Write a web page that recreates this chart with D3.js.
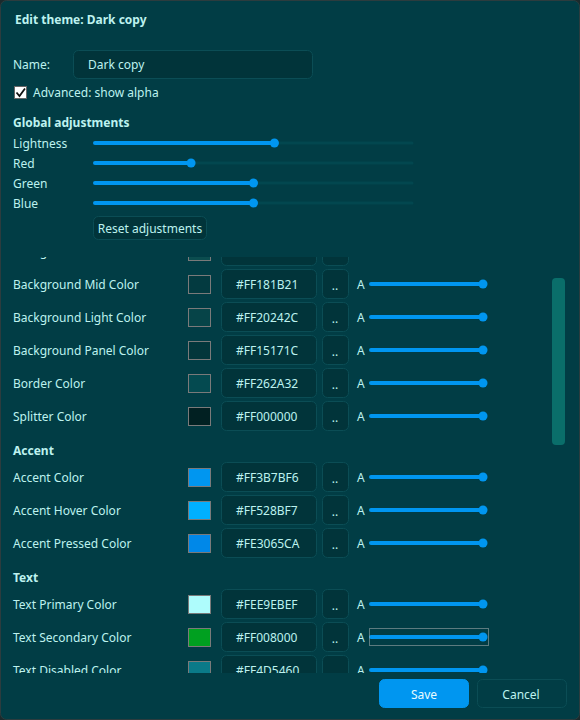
<!DOCTYPE html>
<html><head><meta charset="utf-8">
<script src="https://cdn.jsdelivr.net/npm/d3@7"></script>
<style>body{margin:0;background:#1b2a2c}svg{display:block;font-family:"Noto Sans",sans-serif}</style>
</head><body><div id="ui"></div>
<script>
const sliderNames = ["Lightness", "Red", "Green", "Blue"];
const sliderValues = [0.566, 0.303, 0.5, 0.5];

const sections = [
  {title: null, rows: ["Background Dark Color", "Background Mid Color", "Background Light Color", "Background Panel Color", "Border Color", "Splitter Color"],
   hex: ["#FF0F1216", "#FF181B21", "#FF20242C", "#FF15171C", "#FF262A32", "#FF000000"],
   swatch: ["#0b4d4f", "#033a40", "#064448", "#02363b", "#044a50", "#012022"]},
  {title: "Accent", rows: ["Accent Color", "Accent Hover Color", "Accent Pressed Color"],
   hex: ["#FF3B7BF6", "#FF528BF7", "#FE3065CA"],
   swatch: ["#0096f0", "#00b0ff", "#0088e8"]},
  {title: "Text", rows: ["Text Primary Color", "Text Secondary Color", "Text Disabled Color"],
   hex: ["#FEE9EBEF", "#FF008000", "#FF4D5460"],
   swatch: ["#aefcfc", "#00a020", "#0a7a88"]}
];

const W = 580, H = 720;
const bg = "#013d45", fg = "#bdf2ef", accent = "#0096f0", boxFill = "#01343a", boxStroke = "#0b4d55";

const svg = d3.select("#ui").append("svg").attr("width", W).attr("height", H);
svg.append("rect").attr("x", 0.5).attr("y", 0.5).attr("width", W - 1).attr("height", H - 1)
  .attr("rx", 6).attr("fill", bg).attr("stroke", "#2c3c3e");

function txt(g, x, y, s, opts = {}) {
  return g.append("text").attr("x", x).attr("y", y + 1).attr("dy", "0.35em")
    .attr("fill", opts.fill || fg).attr("font-size", opts.size || 12)
    .attr("font-weight", opts.bold ? "bold" : null)
    .attr("text-anchor", opts.anchor || "start").text(s);
}
function box(g, x, y, w, h, fill, stroke) {
  return g.append("rect").attr("x", x + 0.5).attr("y", y + 0.5).attr("width", w).attr("height", h)
    .attr("rx", 5).attr("fill", fill || boxFill).attr("stroke", stroke || boxStroke);
}
function slider(g, x0, x1, y, v, bgTrack) {
  const s = d3.scaleLinear().domain([0, 1]).range([x0, x1]);
  if (bgTrack) g.append("line").attr("x1", s(v)).attr("x2", x1).attr("y1", y).attr("y2", y)
    .attr("stroke", "#02474f").attr("stroke-width", 3).attr("stroke-linecap", "round");
  g.append("line").attr("x1", x0).attr("x2", s(v) - 4).attr("y1", y).attr("y2", y)
    .attr("stroke", accent).attr("stroke-width", 4).attr("stroke-linecap", "round");
  g.append("circle").attr("cx", s(v)).attr("cy", y).attr("r", 4.5).attr("fill", accent);
}

txt(svg, 15, 19, "Edit theme: Dark copy", {bold: true});
txt(svg, 13, 64, "Name:");
box(svg, 73, 50, 239, 28);
txt(svg, 88, 64, "Dark copy");
svg.append("rect").attr("x", 14.5).attr("y", 86.5).attr("width", 12).attr("height", 12)
  .attr("fill", "#ffffff").attr("stroke", "#666");
svg.append("path").attr("d", "M16.5,92.5 L19.5,96 L25,88.5").attr("fill", "none")
  .attr("stroke", "#111").attr("stroke-width", 1.8);
txt(svg, 33, 92, "Advanced: show alpha");
txt(svg, 13, 122, "Global adjustments", {bold: true});

sliderNames.forEach((n, i) => {
  const y = 143 + i * 20;
  txt(svg, 13, y, n);
  slider(svg, 95, 412, y, sliderValues[i], true);
});
box(svg, 93, 216, 113, 23);
txt(svg, 150, 228, "Reset adjustments", {anchor: "middle"});

// scrolling list
svg.append("clipPath").attr("id", "clip").append("rect").attr("x", 0).attr("y", 257).attr("width", W).attr("height", 416);
const list = svg.append("g").attr("clip-path", "url(#clip)");
let y = 251;
sections.forEach(sec => {
  if (sec.title) { txt(list, 13, y, sec.title, {bold: true}); y += 27; }
  sec.rows.forEach((r, i) => {
    txt(list, 13, y, r);
    list.append("rect").attr("x", 188.5).attr("y", y - 8.5).attr("width", 22).attr("height", 18)
      .attr("fill", sec.swatch[i]).attr("stroke", "#7a7a7a");
    box(list, 221, y - 15, 95, 29);
    txt(list, 236, y, sec.hex[i]);
    box(list, 322, y - 15, 26, 29);
    txt(list, 335, y + 1, "..", {anchor: "middle"});
    txt(list, 357, y, "A");
    slider(list, 371, 483, y, 1, false);
    if (r === "Text Secondary Color")
      list.append("rect").attr("x", 369.5).attr("y", y - 8.5).attr("width", 119).attr("height", 17)
        .attr("fill", "none").attr("stroke", "#bbb").attr("stroke-dasharray", "1,1");
    y += 33;
  });
  y += 1;
});

svg.append("rect").attr("x", 552).attr("y", 278).attr("width", 13).attr("height", 167).attr("rx", 4).attr("fill", "#0a6e6a");

box(svg, 379, 679, 89, 28, accent, accent);
txt(svg, 424, 694, "Save", {anchor: "middle", fill: "#e8fbff"});
box(svg, 477, 679, 89, 28, bg, boxStroke);
txt(svg, 521, 694, "Cancel", {anchor: "middle"});
</script></body></html>
